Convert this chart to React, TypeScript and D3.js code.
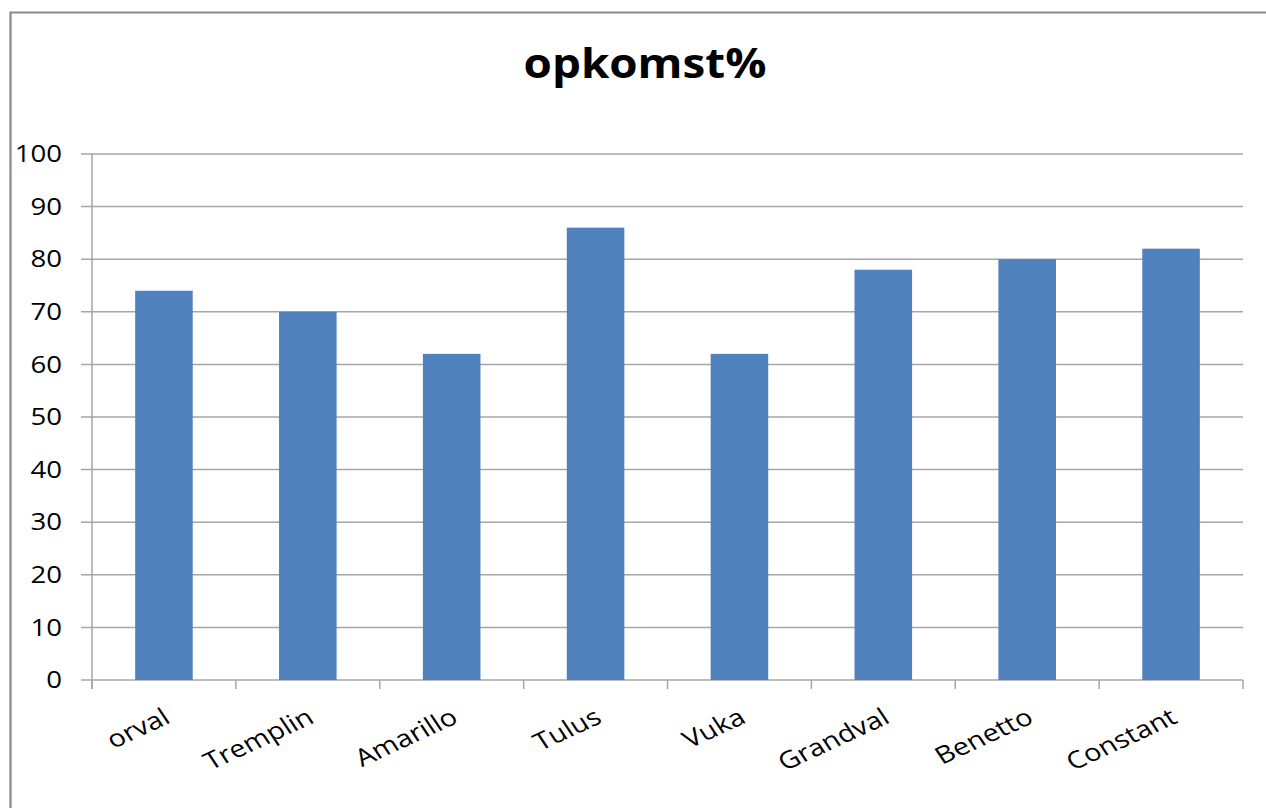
import React from "react";
import * as d3 from "d3";

const categories = ["orval", "Tremplin", "Amarillo", "Tulus", "Vuka", "Grandval", "Benetto", "Constant"];
const values = [74, 70, 62, 86, 62, 78, 80, 82];
const yTicks = [0, 10, 20, 30, 40, 50, 60, 70, 80, 90, 100];
const title = "opkomst%";

export default function App() {
  const W = 1266, H = 808;
  const left = 92, right = 1243, top = 154, bottom = 680;
  const x = d3.scaleBand<string>().domain(categories).range([left, right]).padding(0);
  const y = d3.scaleLinear().domain([0, 100]).range([bottom, top]);
  const bw = x.bandwidth() * 0.4;
  const font = "'Open Sans', sans-serif";
  return (
    <svg width={W} height={H} style={{ position: "fixed", left: 0, top: 0, background: "#fff" }}>
      <rect x={0} y={0} width={W} height={H} fill="#fff" />
      <path d={`M10.5,${H + 5} V12.5 H${W + 5}`} fill="none" stroke="#8a8a8a" strokeWidth={2.2} />
      <text transform={`translate(645,78) scale(1.09,1)`} textAnchor="middle" fontFamily={font} fontWeight={700} fontSize={42} fill="#000">{title}</text>
      {yTicks.map(t => (
        <g key={t}>
          <line x1={81} x2={right} y1={y(t)} y2={y(t)} stroke="#a6a6a6" strokeWidth={1.5} />
          <text transform={`translate(62,${y(t)}) scale(1.2,1)`} dy="0.36em" textAnchor="end" fontFamily={font} fontSize={23} fill="#000">{t}</text>
        </g>
      ))}
      <line x1={left} x2={left} y1={top} y2={689} stroke="#a6a6a6" strokeWidth={1.5} />
      {d3.range(categories.length + 1).map(i => {
        const xx = left + i * x.step();
        return <line key={i} x1={xx} x2={xx} y1={bottom} y2={689} stroke="#a6a6a6" strokeWidth={1.5} />;
      })}
      {categories.map((c, i) => (
        <rect key={c} x={x(c)! + (x.bandwidth() - bw) / 2} y={y(values[i])} width={bw} height={bottom - y(values[i])} fill="#4f81bd" />
      ))}
      {categories.map(c => {
        const cx = x(c)! + x.bandwidth() / 2 + 8;
        const cy = 722;
        return (
          <text key={c} transform={`translate(${cx},${cy}) scale(1.2,1) rotate(-29)`} textAnchor="end" fontFamily={font} fontSize={24} fill="#000">{c}</text>
        );
      })}
    </svg>
  );
}
